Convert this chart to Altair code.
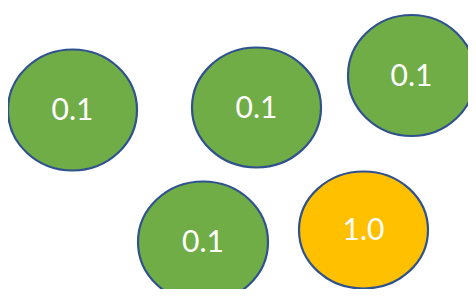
import altair as alt
import pandas as pd

labels = ["0.1", "0.1", "0.1", "0.1", "1.0"]
cx = [72.5, 256.5, 411.5, 203.0, 363.5]
cy = [110.0, 107.5, 75.5, 242.0, 230.0]
rx = [64.5, 64.5, 63.5, 65.0, 64.5]
ry = [60.5, 60.0, 60.5, 60.5, 58.5]

def ellipse_path(a, b):
    r = b / a
    return f"M-1,0 A1,{r:.4f} 0 1,1 1,0 A1,{r:.4f} 0 1,1 -1,0 Z"

df = pd.DataFrame({
    "label": labels,
    "cx": cx,
    "cy": cy,
    "size": [(2 * a) ** 2 for a in rx],
    "shape": [ellipse_path(a, b) for a, b in zip(rx, ry)],
})

# page has an 8px margin: plot area spans page pixels 8..468 x 8..289
xs = alt.X("cx:Q", scale=alt.Scale(domain=[8, 468], nice=False, zero=False), axis=None)
ys = alt.Y("cy:Q", scale=alt.Scale(domain=[289, 8], nice=False, zero=False), axis=None)

ell = alt.Chart(df).mark_point(filled=True, stroke="#2F528F", strokeWidth=2.2, opacity=1, clip=True).encode(
    x=xs, y=ys,
    fill=alt.Fill("label:N", scale=alt.Scale(domain=["0.1", "1.0"], range=["#70AD47", "#FFC000"]), legend=None),
    size=alt.Size("size:Q", scale=None),
    shape=alt.Shape("shape:N", scale=None),
)

txt = alt.Chart(df).mark_text(color="white", font="Lato", fontSize=30, align="center", baseline="middle", dy=1).encode(
    x=xs, y=ys, text="label:N"
)

chart = (ell + txt).properties(width=460, height=281, padding=0).configure_view(strokeWidth=0)
chart.save("out.html", embed_options={"renderer": "svg", "actions": False})
